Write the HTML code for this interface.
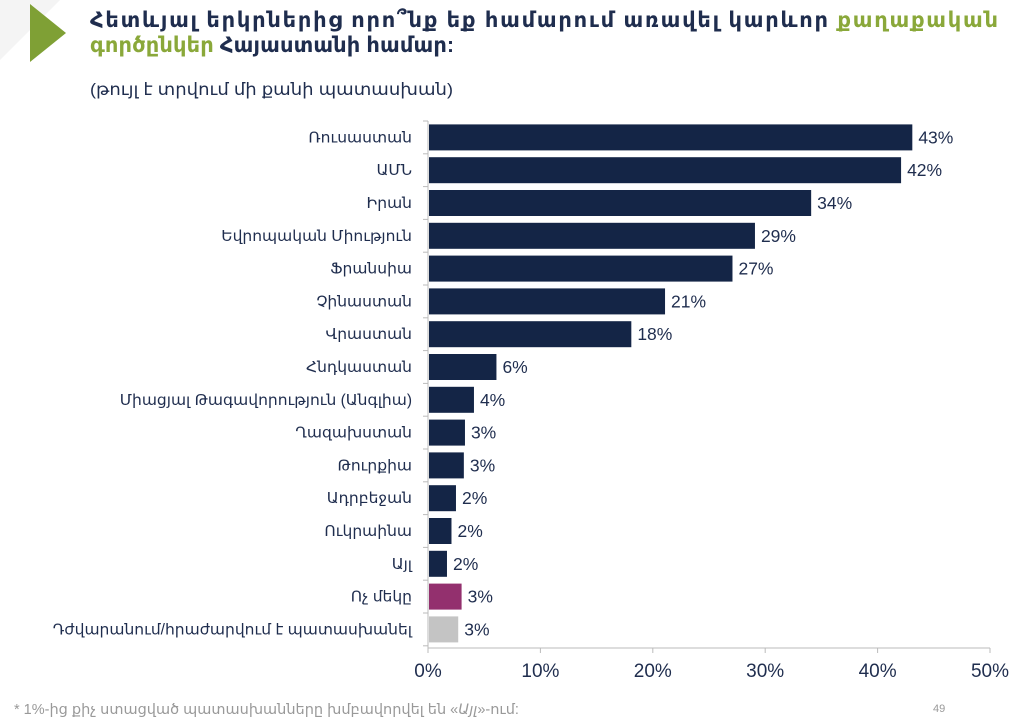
<!DOCTYPE html>
<html><head><meta charset="utf-8"><style>
body{margin:0;width:1024px;height:719px;background:#fff;font-family:"Liberation Sans","DejaVu Sans",sans-serif;overflow:hidden;position:relative}
</style></head><body>
<svg width="1024" height="719" style="position:absolute;left:0;top:0">
<polygon points="0,0 60,0 0,60" fill="#f4f4f4"/>
<polygon points="30,4 66,33 30,62" fill="#7fa035"/>
<g font-family="Liberation Sans, DejaVu Sans, sans-serif">
<text x="90" y="27" font-size="21" font-weight="bold" fill="#1f2d4e" textLength="908" lengthAdjust="spacing">Հետևյալ երկրներից որո՞նք եք համարում առավել կարևոր <tspan fill="#8aa83a">քաղաքական</tspan></text>
<text x="90" y="52" font-size="21" font-weight="bold" fill="#1f2d4e" textLength="364" lengthAdjust="spacing"><tspan fill="#8aa83a">գործընկեր</tspan> Հայաստանի համար:</text>
<text x="90" y="95" font-size="17" fill="#1f2d4e" textLength="363" lengthAdjust="spacingAndGlyphs">(թույլ է տրվում մի քանի պատասխան)</text>
</g>
<g id="bars"></g>
</svg>
<script>
(function(){
var d=[["Ռուսաստան",43],["ԱՄՆ",42],["Իրան",34],["Եվրոպական Միություն",29],["Ֆրանսիա",27],["Չինաստան",21],["Վրաստան",18],["Հնդկաստան",6],["Միացյալ Թագավորություն (Անգլիա)",4],["Ղազախստան",3],["Թուրքիա",3],["Ադրբեջան",2],["Ուկրաինա",2],["Այլ",2],["Ոչ մեկը",3],["Դժվարանում/հրաժարվում է պատասխանել",3]];
var w=[43,42,34,29,27,21,18,6,4,3.2,3.1,2.4,2,1.6,2.9,2.6];
var s='',x0=428,k=11.24,y0=121,h=32.8;
s+='<line x1="'+x0+'" y1="'+y0+'" x2="'+x0+'" y2="648" stroke="#bbb"/>';
s+='<line x1="'+x0+'" y1="648" x2="990" y2="648" stroke="#bbb"/>';
for(var i=0;i<=16;i++){var y=y0+i*h;s+='<line x1="'+(x0-5)+'" y1="'+y+'" x2="'+x0+'" y2="'+y+'" stroke="#bbb"/>';}
for(var j=0;j<=5;j++){var x=x0+j*112.4;s+='<line x1="'+x+'" y1="648" x2="'+x+'" y2="653" stroke="#bbb"/><text x="'+x+'" y="677" font-size="19" text-anchor="middle" fill="#1f2d4e" font-family="Liberation Sans Narrow, Liberation Sans, sans-serif">'+(j*10)+'%</text>';}
d.forEach(function(r,i){var cy=y0+i*h+h/2;var c=i==14?'#93306e':(i==15?'#c4c4c4':'#142546');var bw=w[i]*k;
s+='<rect x="'+(x0+1)+'" y="'+(cy-13)+'" width="'+bw+'" height="26" fill="'+c+'"/>';
s+='<text x="'+(x0+bw+7)+'" y="'+(cy+6)+'" font-size="17.5" fill="#1f2d4e" font-family="Liberation Sans Narrow, Liberation Sans, sans-serif">'+r[1]+'%</text>';
s+='<text x="412" y="'+(cy+5)+'" font-size="15.5" text-anchor="end" fill="#1f2d4e" font-family="Liberation Sans, DejaVu Sans, sans-serif">'+r[0]+'</text>';});
s+='<text x="14" y="714" font-size="14.5" fill="#999" font-family="Liberation Sans, DejaVu Sans, sans-serif">* 1%-ից քիչ ստացված պատասխանները խմբավորվել են «<tspan font-style="italic">Այլ</tspan>»-ում:</text>';
s+='<text x="933" y="712" font-size="11" fill="#999" font-family="Liberation Sans, sans-serif">49</text>';
document.getElementById('bars').innerHTML=s;
})();
</script>
</body></html>
